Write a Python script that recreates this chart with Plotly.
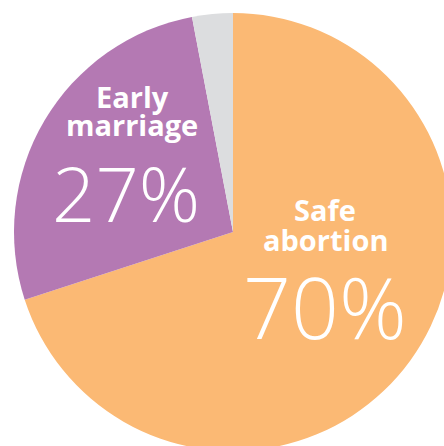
import plotly.graph_objects as go

labels = ["Safe abortion", "Early marriage", "Other"]
values = [70, 27, 3]
colors = ["#FBB974", "#B479B3", "#DCDDDF"]
label_lines = [["Safe", "abortion"], ["Early", "marriage"]]

W, H = 452, 451
L, T = 14, 13
PW, PH = W - L, H - T


def px(x):
    return (x - L) / PW


def py(y):
    return (H - y) / PH


fig = go.Figure(go.Pie(
    labels=labels,
    values=values,
    marker=dict(colors=colors, line=dict(width=0)),
    sort=False,
    direction="clockwise",
    rotation=0,
    textinfo="none",
    hoverinfo="label+percent",
    showlegend=False,
))

annots = []
# positions (pixel) for the label blocks
spots = [
    dict(cx=325, l1=210, l2=239, pct=306, pcx=325, size=84),
    dict(cx=132, l1=96, l2=124, pct=192, pcx=126, size=76),
]
for i in range(2):
    s = spots[i]
    for line, yy in zip(label_lines[i], (s["l1"], s["l2"])):
        annots.append(dict(
            text=line, x=px(s["cx"]), y=py(yy), xref="paper", yref="paper",
            xanchor="center", yanchor="middle", showarrow=False,
            font=dict(family="Open Sans", size=29, color="white", weight=700),
        ))
    annots.append(dict(
        text=f"{values[i]}%", x=px(s["pcx"]), y=py(s["pct"]),
        xref="paper", yref="paper", xanchor="center", yanchor="middle", showarrow=False,
        font=dict(family="Open Sans", size=s["size"], color="white", weight=300),
    ))

fig.update_layout(
    width=W, height=H,
    margin=dict(l=L, r=0, t=T, b=0, pad=0),
    paper_bgcolor="white",
    plot_bgcolor="white",
    annotations=annots,
)

fig.write_html(
    "out.html",
    config={"displayModeBar": False},
    post_script="document.body.style.margin='0';document.body.style.overflow='hidden';",
)
